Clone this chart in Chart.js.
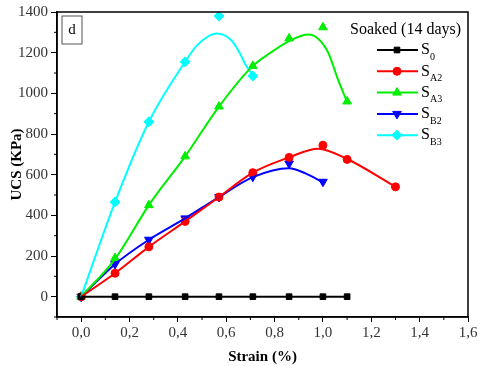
<!DOCTYPE html>
<html>
<head>
<meta charset="utf-8">
<script src="https://cdn.jsdelivr.net/npm/chart.js@4/dist/chart.umd.min.js"></script>
<style>
  body { margin: 0; background: #fff; }
</style>
</head>
<body>
<canvas id="myChart" width="480" height="366"></canvas>
<script>
// measured points (strain %, UCS kPa)
const strain = [0, 0.14, 0.28, 0.43, 0.57, 0.71, 0.86, 1.0, 1.1, 1.3];
const s0  = [0, 0, 0, 0, 0, 0, 0, 0, 0];
const sA2 = [0, 115, 245, 370, 490, 610, 685, 745, 675, 540];
const sA3 = [0, 190, 450, 690, 935, 1135, 1270, 1325, 960];
const sB2 = [0, 160, 280, 385, 490, 590, 655, 565];
const sB3 = [0, 465, 860, 1155, 1380, 1085];

// fitted curves
const fitS0X = [0, 1.1];
const fitS0Y = [0, 0];
const fitA2X = [0, 0.14, 0.28, 0.43, 0.57, 0.71, 0.86, 0.98, 1.1, 1.3];
const fitA2Y = [0, 115, 245, 370, 490, 610, 685, 728, 677, 540];
const fitA3X = [0, 0.14, 0.28, 0.43, 0.57, 0.71, 0.78, 0.86, 0.94, 1.02, 1.06, 1.1];
const fitA3Y = [0, 185, 450, 690, 935, 1135, 1197, 1257, 1289, 1205, 1075, 958];
const fitB2X = [0, 0.14, 0.28, 0.43, 0.57, 0.71, 0.86, 0.93, 1.0];
const fitB2Y = [0, 160, 280, 385, 490, 588, 632, 605, 562];
const fitB3X = [0, 0.14, 0.28, 0.43, 0.48, 0.56, 0.62, 0.66, 0.68, 0.71];
const fitB3Y = [0, 465, 860, 1155, 1237, 1294, 1262, 1189, 1140, 1090];

const xTicks = [0, 0.2, 0.4, 0.6, 0.8, 1.0, 1.2, 1.4, 1.6];
const yTicks = [0, 200, 400, 600, 800, 1000, 1200, 1400];

const legendTitle = "Soaked (14 days)";
const names = [["S", "0"], ["S", "A2"], ["S", "A3"], ["S", "B2"], ["S", "B3"]];
const colors = ["#000000", "#ff0000", "#00ee00", "#0000ff", "#00ffff"];
const styles = [
    { pointStyle: "rect", rotation: 0, radius: 4 },
    { pointStyle: "circle", rotation: 0, radius: 4 },
    { pointStyle: "triangle", rotation: 0, radius: 5 },
    { pointStyle: "triangle", rotation: 180, radius: 5 },
    { pointStyle: "rectRot", rotation: 0, radius: 5 }
];

const pts = (xs, ys) => ys.map((y, i) => ({ x: xs[i], y: y }));

const measured = [s0, sA2, sA3, sB2, sB3];
const fits = [[fitS0X, fitS0Y], [fitA2X, fitA2Y], [fitA3X, fitA3Y], [fitB2X, fitB2Y], [fitB3X, fitB3Y]];

var datasets = [];
fits.forEach((f, i) => {
    datasets.push({
        data: pts(f[0], f[1]),
        showLine: true,
        borderColor: colors[i],
        borderWidth: 2,
        pointRadius: 0,
        cubicInterpolationMode: "monotone"
    });
});
measured.forEach((m, i) => {
    datasets.push({
        data: pts(strain, m),
        showLine: false,
        backgroundColor: colors[i],
        borderColor: colors[i],
        borderWidth: 1,
        pointStyle: styles[i].pointStyle,
        rotation: styles[i].rotation,
        pointRadius: styles[i].radius
    });
});

const serif = "'Liberation Serif', 'Times New Roman', serif";

const decor = {
    id: "decor",
    afterDraw(chart) {
        const ctx = chart.ctx;
        const a = chart.chartArea;
        const xs = chart.scales.x, ys = chart.scales.y;
        ctx.save();
        // frame
        ctx.strokeStyle = "#000";
        ctx.lineWidth = 1.5;
        ctx.strokeRect(a.left, a.top, a.right - a.left, a.bottom - a.top);
        // minor ticks
        ctx.lineWidth = 1;
        for (let v = -0.1; v < 1.6; v += 0.2) {
            const px = xs.getPixelForValue(v);
            ctx.beginPath(); ctx.moveTo(px, a.bottom); ctx.lineTo(px, a.bottom + 3); ctx.stroke();
        }
        for (let v = -100; v < 1400; v += 200) {
            const py = ys.getPixelForValue(v);
            ctx.beginPath(); ctx.moveTo(a.left, py); ctx.lineTo(a.left - 3, py); ctx.stroke();
        }
        // panel label
        ctx.strokeStyle = "#555";
        ctx.lineWidth = 1;
        ctx.strokeRect(a.left + 5, a.top + 4, 20, 28);
        ctx.fillStyle = "#000";
        ctx.font = "15px " + serif;
        ctx.textAlign = "center";
        ctx.textBaseline = "middle";
        ctx.fillText("d", a.left + 15, a.top + 18);
        // legend
        ctx.textAlign = "left";
        ctx.font = "16px " + serif;
        ctx.fillText(legendTitle, 350, 30);
        names.forEach((n, i) => {
            const y = 50 + i * 21.3;
            ctx.strokeStyle = colors[i];
            ctx.fillStyle = colors[i];
            ctx.lineWidth = 2;
            ctx.beginPath(); ctx.moveTo(377, y); ctx.lineTo(418, y); ctx.stroke();
            ctx.lineWidth = 1;
            Chart.helpers.drawPoint(ctx, {
                pointStyle: styles[i].pointStyle,
                rotation: styles[i].rotation,
                radius: styles[i].radius,
                borderWidth: 1
            }, 397, y);
            ctx.fillStyle = "#000";
            ctx.font = "16px " + serif;
            ctx.fillText(n[0], 421, y);
            ctx.font = "10px " + serif;
            ctx.fillText(n[1], 430, y + 7);
        });
        ctx.restore();
    }
};

const chart = new Chart(document.getElementById("myChart").getContext("2d"), {
    type: "scatter",
    data: { datasets: datasets },
    options: {
        responsive: false,
        animation: false,
        layout: { padding: { top: 10, right: 12, left: 0, bottom: 0 } },
        plugins: { legend: { display: false }, tooltip: { enabled: false } },
        scales: {
            x: {
                type: "linear",
                min: -0.1,
                max: 1.6,
                afterBuildTicks: (s) => { s.ticks = xTicks.map(v => ({ value: v })); },
                afterFit: (s) => { s.height = 49; },
                border: { display: true, color: "#000", width: 1.5 },
                grid: { drawOnChartArea: false, drawTicks: true, tickLength: 5, color: "#000" },
                ticks: {
                    color: "#333",
                    font: { family: serif, size: 15 },
                    padding: 2,
                    callback: (v) => Number(v).toFixed(1).replace(".", ",")
                },
                title: {
                    display: true,
                    text: "Strain (%)",
                    color: "#000",
                    font: { family: serif, size: 15, weight: "bold" },
                    padding: { top: 0, bottom: 0 }
                }
            },
            y: {
                min: -100,
                max: 1400,
                afterBuildTicks: (s) => { s.ticks = yTicks.map(v => ({ value: v })); },
                afterFit: (s) => { s.width = 57; },
                border: { display: true, color: "#000", width: 1.5 },
                grid: { drawOnChartArea: false, drawTicks: true, tickLength: 6, color: "#000" },
                ticks: {
                    color: "#333",
                    font: { family: serif, size: 15 },
                    padding: 3,
                    callback: (v) => String(v)
                },
                title: {
                    display: true,
                    text: "UCS (KPa)",
                    color: "#000",
                    font: { family: serif, size: 15, weight: "bold" },
                    padding: { top: 8, bottom: 0 }
                }
            }
        }
    },
    plugins: [decor]
});
</script>
</body>
</html>
